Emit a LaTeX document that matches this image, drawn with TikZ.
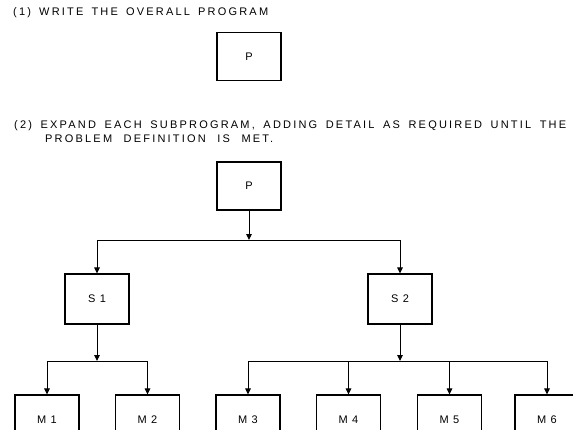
\documentclass[tikz,border=0pt]{standalone}
\usepackage{fontspec}
\setmainfont{Liberation Sans}
\newfontfamily\leroy[LetterSpace=20]{Liberation Sans}
\newfontfamily\leroybox[LetterSpace=40]{Liberation Sans}
\usetikzlibrary{positioning,arrows.meta}
\tikzset{
>={Triangle[length=6pt,width=5.5pt]},
  progbox/.style={
    rectangle,
    % fill=black!10,
    draw=black, line width=1.1pt,
    minimum width=64pt,
    minimum height=48pt,
    font=\leroybox\fontsize{11}{12}\selectfont},
  caption/.style={
    anchor=west,
    inner sep=0pt,
    font=\leroy\fontsize{11}{12}\selectfont},
  line/.style={draw, line width=1pt, ->},
}

\begin{document}
\begin{tikzpicture}[x=1pt,y=-1pt]

\useasboundingbox (0,0) rectangle (573,429);
\clip (0,0) rectangle (573,429);

% step one
\node[caption] (stepone) at (13,13)
  {\makebox[255pt][s]{(1) WRITE THE OVERALL PROGRAM}};
\node[progbox] (Ptop) at (249,56.5) {P};

% step two
\node[caption] (steptwo) at (14,126)
  {\makebox[552pt][s]{(2) EXPAND EACH SUBPROGRAM, ADDING DETAIL AS REQUIRED UNTIL THE}};
\node[caption] (steptwob) at (45,139)
  {\makebox[228pt][s]{PROBLEM DEFINITION IS MET.}};

\node[progbox] (P) at (249,186) {P};

\node[progbox, minimum height=50pt] (S1) at (97,299) {S1};
\node[progbox, minimum height=50pt] (S2) at (400,299) {S2};

\foreach \name/\x in {M1/47, M2/147.5, M3/248, M4/348.5, M5/449.5, M6/547}
  \node[progbox, minimum height=50pt] (\name) at (\x,420) {\name};

\coordinate (jP) at (249,240);
\coordinate (jS1) at (97,361);
\coordinate (jS2) at (400,361);

\path[line] (P) -- (jP);
\path[line] (jP) -| (S1);
\path[line] (jP) -| (S2);

\path[line] (S1) -- (jS1);
\foreach \m in {M1,M2}
  \path[line] (jS1) -| (\m);

\path[line] (S2) -- (jS2);
\foreach \m in {M3,M4,M5,M6}
  \path[line] (jS2) -| (\m);

\end{tikzpicture}
\end{document}
